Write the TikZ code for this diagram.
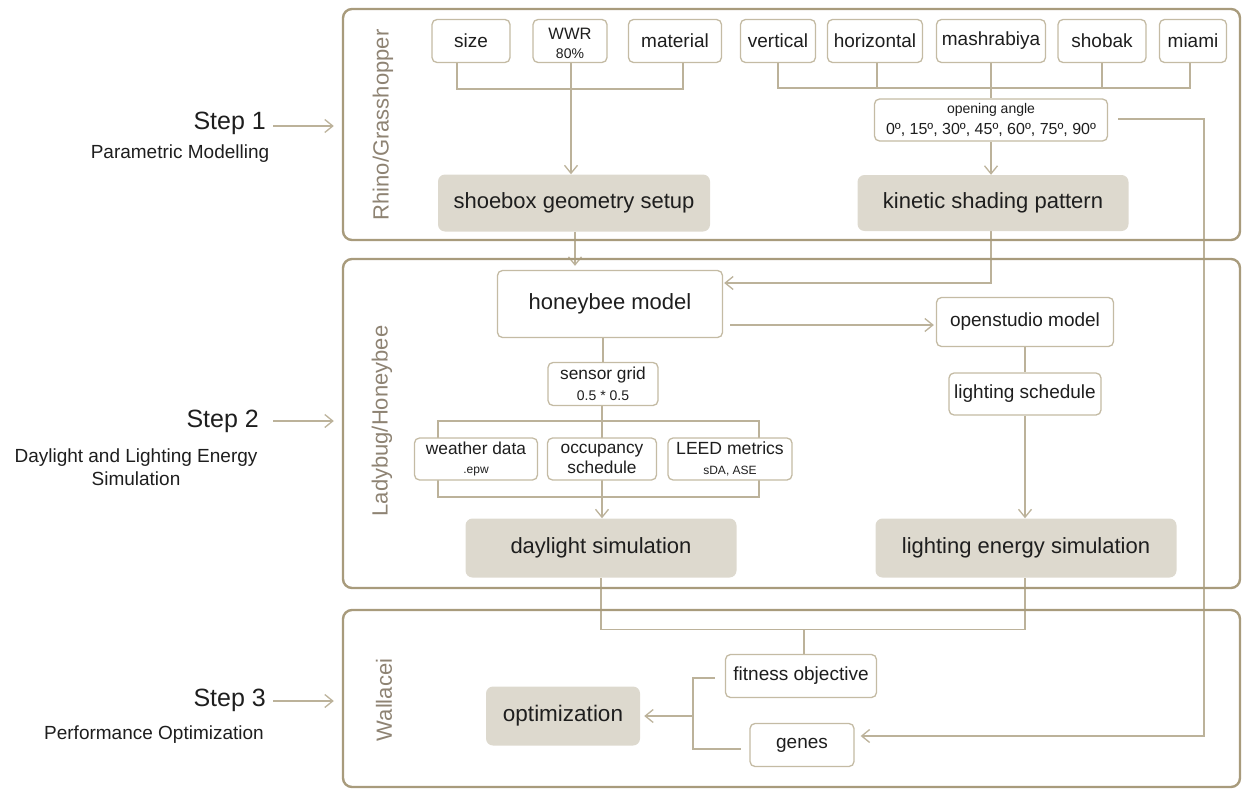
\documentclass[tikz,border=0pt]{standalone}
\usepackage{fontspec}
\setmainfont{Liberation Sans}
\usetikzlibrary{arrows.meta,backgrounds}
\definecolor{framec}{HTML}{A89B7C}
\definecolor{boxc}{HTML}{C4BBA4}
\definecolor{linec}{HTML}{BCB29A}
\definecolor{fillc}{HTML}{DDD9CE}
\definecolor{labc}{HTML}{8E8373}
\definecolor{txt}{HTML}{1E1E1E}
\newcommand{\fs}[1]{\fontsize{#1pt}{\dimexpr #1pt*6/5\relax}\selectfont}
\tikzset{
  frame/.style={draw=framec, line width=2.4pt, rounded corners=9pt, inner sep=0pt},
  pbox/.style={draw=boxc, line width=1.3pt, rounded corners=5pt, fill=white, text=txt, align=center, inner sep=0pt, font=\fs{19}},
  fbox/.style={fill=fillc, rounded corners=7pt, text=txt, align=center, inner sep=0pt, font=\fs{22}},
  conn/.style={draw=linec, line width=1.3pt},
  arr/.style={conn, -{Straight Barb[length=8pt,width=13pt,line width=1.3pt]}},
  vlab/.style={rotate=90, text=labc, font=\fs{22}, inner sep=0pt},
  steplab/.style={anchor=east, text=txt, font=\fs{25}, inner sep=0pt},
  sublab/.style={text=txt, font=\fs{19}, align=center, inner sep=0pt},
}
\begin{document}
\begin{tikzpicture}[x=1pt,y=-1pt]
\useasboundingbox (0,0) rectangle (1244,789);
% frames
\node[frame, minimum width=897pt, minimum height=231pt] (F1) at (791.5,124.5) {};
\node[frame, minimum width=897pt, minimum height=329pt] (F2) at (791.5,423.5) {};
\node[frame, minimum width=897pt, minimum height=177pt] (F3) at (791.5,698.5) {};
\node[vlab] (L1) at (383,125) {Rhino/Grasshopper};
\node[vlab] (L2) at (382,421) {Ladybug/Honeybee};
\node[vlab] (L3) at (384,700) {Wallacei};
% step labels
\node[steplab] (s1) at (266,123) {Step 1};
\node[sublab] (p1) at (180,154) {Parametric Modelling};
\node[steplab] (s2) at (259,421) {Step 2};
\node[sublab] (p2) at (136,467) {Daylight and Lighting Energy\\Simulation};
\node[steplab] (s3) at (266,700) {Step 3};
\node[sublab] (p3) at (154,735) {Performance Optimization};
% top nodes
\node[pbox, minimum width=78pt, minimum height=43pt] (size) at (471,41) {size};
\node[pbox, minimum width=74pt, minimum height=43pt] (wwr) at (570,41) {};
\node[text=txt, align=center, inner sep=0pt, font=\fs{19}] (wwrt) at ([yshift=-2pt]wwr.center) {\fs{16.5}WWR\\[-4pt]\fs{14}80\%};
\node[pbox, minimum width=93pt, minimum height=43pt] (material) at (675,41) {material};
\node[pbox, minimum width=75pt, minimum height=43pt] (vertical) at (778,41) {vertical};
\node[pbox, minimum width=95pt, minimum height=43pt] (horizontal) at (875,41) {horizontal};
\node[pbox, minimum width=109pt, minimum height=43pt] (mashrabiya) at (991,41) {mashrabiya};
\node[pbox, minimum width=88pt, minimum height=43pt] (shobak) at (1102,41) {shobak};
\node[pbox, minimum width=67pt, minimum height=43pt] (miami) at (1193,41) {miami};
\node[pbox, minimum width=233pt, minimum height=42pt] (angle) at (991,120) {\fs{14}opening angle\\[-2pt]\fs{16}0º, 15º, 30º, 45º, 60º, 75º, 90º};
\node[fbox, minimum width=272pt, minimum height=57pt] (shoebox) at (574,203) {shoebox geometry setup};
\node[fbox, minimum width=271pt, minimum height=56pt] (kinetic) at (993,203) {kinetic shading pattern};
% middle nodes
\node[pbox, minimum width=225pt, minimum height=67pt, font=\fs{22}] (honeybee) at (610,304) {honeybee model};
\node[pbox, minimum width=177pt, minimum height=49pt] (openstudio) at (1025,322) {openstudio model};
\node[pbox, minimum width=110pt, minimum height=43pt] (sensor) at (603,384) {\fs{17.3}sensor grid\\[-2pt]\fs{14}0.5 * 0.5};
\node[pbox, minimum width=152pt, minimum height=42pt] (lightsched) at (1025,394) {lighting schedule};
\node[pbox, minimum width=123pt, minimum height=42pt] (weather) at (476,459) {\fs{17.3}weather data\\[-3pt]\fs{12}.epw};
\node[pbox, minimum width=109pt, minimum height=42pt] (occupancy) at (602,459) {\fs{17.3}occupancy\\[-3pt]\fs{17.3}schedule};
\node[pbox, minimum width=124pt, minimum height=42pt] (leed) at (730,459) {\fs{17.6}LEED metrics\\[-3pt]\fs{12}sDA, ASE};
\node[fbox, minimum width=271pt, minimum height=59pt] (daylight) at (601,548) {daylight simulation};
\node[fbox, minimum width=301pt, minimum height=59pt] (lightenergy) at (1026,548) {lighting energy simulation};
% bottom nodes
\node[pbox, minimum width=151pt, minimum height=43pt] (fitness) at (801,676) {fitness objective};
\node[pbox, minimum width=104pt, minimum height=43pt] (genes) at (802,745) {genes};
\node[fbox, minimum width=154pt, minimum height=59pt, font=\fs{22.5}] (optim) at (563,716) {optimization};
\coordinate (gx) at (1204,119);
\coordinate (bl) at (438,421);
\coordinate (br) at (759,497);
\coordinate (bb) at (693,749);
\coordinate (hbo) at ([shift={(7pt,-21pt)}]honeybee.east);
\begin{scope}[on background layer]
% step arrows
\draw[arr] ([xshift=7pt,yshift=-3pt]s1.east) -- ([xshift=-8pt,yshift=-3pt]F1.west |- s1.east);
\draw[arr] ([xshift=14pt]s2.east) -- ([xshift=-8pt]F2.west |- s2.east);
\draw[arr] ([xshift=7pt,yshift=-1pt]s3.east) -- ([xshift=-8pt,yshift=-1pt]F3.west |- s3.east);
% top brackets
\draw[conn] ([xshift=-14pt]size.south) -- ++(0,26) -| ([xshift=8pt]material.south);
\draw[arr] ([xshift=1pt]wwr.south) -- ([xshift=1pt]wwr.south |- shoebox.north);
\draw[conn] (vertical.south) -- ++(0,25) -| ([xshift=-3pt]miami.south);
\draw[conn] ([xshift=2pt]horizontal.south) -- ++(0,25);
\draw[conn] (shobak.south) -- ++(0,25);
\draw[conn] (mashrabiya.south) -- (angle.north);
\draw[arr] (angle.south) -- (angle.south |- kinetic.north);
\draw[arr] ([xshift=10pt,yshift=1pt]angle.east) -- (gx) |- ([shift={(6pt,9pt)}]genes.east);
% to honeybee
\draw[arr] ([xshift=-2pt]kinetic.south) |- ([shift={(1pt,21pt)}]honeybee.east);
\draw[arr, shorten >=4pt] ([xshift=1pt]shoebox.south) -- ([xshift=1pt]shoebox.south |- honeybee.north);
\draw[arr] (hbo) -- ([xshift=-2pt]openstudio.west |- hbo);
\draw[conn] (openstudio.south) -- (lightsched.north);
\draw[arr] (lightsched.south) -- (lightsched.south |- lightenergy.north);
\draw[conn] (honeybee.south -| sensor.north) -- (sensor.north);
\draw[conn] (bl) rectangle (br);
\draw[arr] ([xshift=-1pt]sensor.south) -- ([xshift=-1pt]sensor.south |- daylight.north);
% bottom
\draw[conn] (daylight.south) -- ++(0,52) -| ([xshift=-1pt]lightenergy.south);
\draw[conn] ([xshift=3pt]fitness.north) -- ++(0,-25);
\draw[conn] ([shift={(-10pt,-2pt)}]fitness.west) -| (bb) -- ([shift={(-8pt,-4pt)}]genes.west);
\draw[arr] (bb |- optim.east) -- ([xshift=4pt]optim.east);
\end{scope}
\end{tikzpicture}
\end{document}
